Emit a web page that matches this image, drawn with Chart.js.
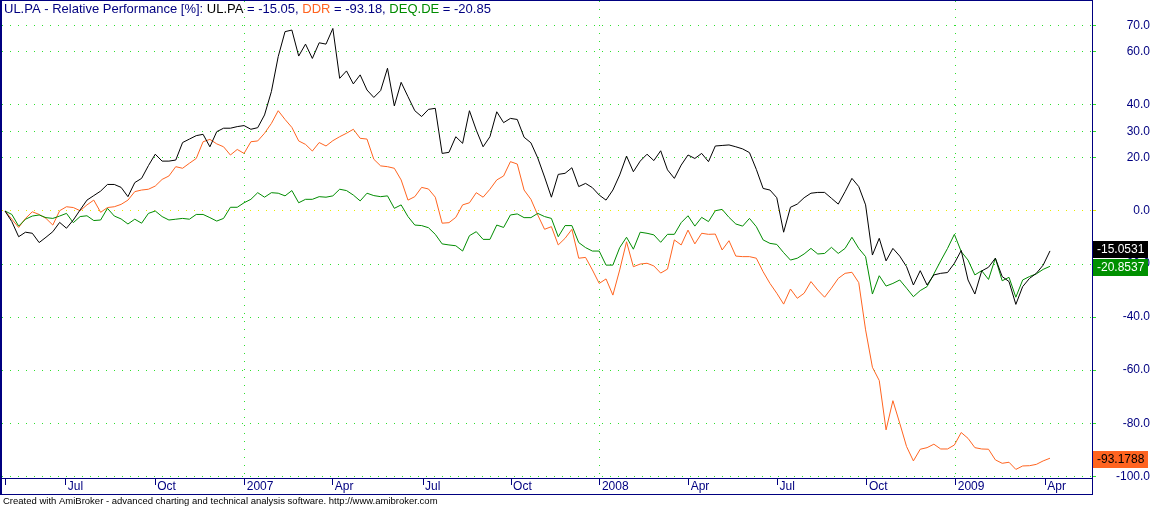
<!DOCTYPE html>
<html>
<head>
<meta charset="utf-8">
<title>UL.PA - Relative Performance</title>
<script src="https://cdn.jsdelivr.net/npm/chart.js"></script>
<style>
    html, body { margin: 0; padding: 0; background: #ffffff; }
</style>
</head>
<body>
<canvas id="perfChart" width="1153" height="507"></canvas>
<script>
// --- weekly relative performance [%] (May 2006 - Apr 2009) ---
const ulpa = [
    0, -4.0, -9.7, -8.0, -8.4, -11.9, -9.9, -7.8, -4.3, -6.5,
    -3.4, 0.4, 4.1, 5.8, 7.5, 10.0, 10.0, 8.9, 5.4, 10.7,
    12.3, 17.1, 21.4, 18.8, 18.8, 19.2, 25.8, 27.1, 28.4, 28.9,
    24.2, 29.9, 31.2, 31.2, 31.8, 32.2, 30.8, 31.4, 36.2, 45.0,
    58.2, 67.6, 68.2, 58.4, 62.9, 57.5, 63.4, 62.9, 68.8, 50.0,
    52.8, 47.9, 51.3, 45.6, 42.8, 45.4, 53.8, 39.6, 48.5, 43.1,
    37.8, 35.6, 38.3, 38.7, 21.7, 22.1, 28.0, 25.5, 37.8, 30.5,
    24.2, 28.0, 37.4, 33.3, 34.9, 34.5, 27.8, 25.7, 20.0, 12.8,
    5.2, 13.8, 14.2, 16.3, 9.2, 10.4, 8.8, 6.0, 4.1, 7.9,
    13.6, 20.7, 14.8, 18.8, 21.4, 19.0, 22.7, 15.5, 12.3, 17.3,
    21.1, 19.8, 21.7, 18.6, 24.5, 24.7, 24.9, 24.2, 23.4, 22.0,
    15.7, 8.5, 7.9, 5.0, -8.0, 1.4, 2.6, 5.0, 6.7, 7.0,
    7.0, 4.8, 2.6, 7.3, 12.3, 9.2, 2.3, -16.6, -10.3, -18.8,
    -14.1, -17.0, -21.0, -27.9, -22.5, -27.9, -24.1, -23.5, -23.2, -19.7,
    -14.9, -26.0, -31.3, -22.6, -21.2, -17.8, -24.7, -26.6, -35.2, -28.5,
    -25.4, -23.5, -20.4, -15.0531
];
const ddr = [
    0, -3.1, -6.2, -2.8, -0.3, -1.3, -2.8, -5.3, 0.1, 1.6,
    1.3, 0.1, 2.3, 4.1, -0.5, 1.3, 1.6, 2.5, 4.1, 7.3,
    7.9, 8.2, 9.4, 11.9, 13.2, 16.7, 16.1, 18.0, 19.8, 26.1,
    27.0, 25.3, 24.2, 21.1, 23.2, 21.7, 26.1, 26.4, 29.3, 33.0,
    37.8, 34.5, 31.5, 26.4, 25.1, 22.6, 25.8, 24.5, 26.5, 28.0,
    29.3, 30.8, 27.4, 27.1, 19.5, 17.0, 16.7, 16.1, 11.7, 4.1,
    5.4, 8.9, 8.3, 5.2, -4.6, -4.4, -2.4, 2.3, 3.1, 6.9,
    5.2, 8.2, 11.7, 13.2, 18.6, 17.7, 7.9, 4.4, -1.5, -6.9,
    -5.9, -12.8, -10.3, -6.9, -17.8, -17.5, -22.2, -27.3, -25.6, -31.7,
    -22.2, -11.6, -21.0, -20.0, -19.7, -20.7, -23.4, -21.9, -10.9, -12.8,
    -7.2, -12.4, -8.4, -8.8, -8.7, -14.7, -11.2, -17.0, -17.2, -17.2,
    -17.8, -22.9, -27.3, -31.0, -35.1, -29.4, -32.9, -31.0, -26.6, -29.8,
    -32.5, -29.1, -25.4, -23.5, -23.1, -27.0, -44.8, -58.9, -63.9, -82.5,
    -71.5, -80.0, -88.8, -94.2, -89.8, -89.2, -87.9, -89.7, -89.7, -88.2,
    -83.5, -85.7, -89.2, -89.7, -89.8, -93.8, -95.1, -94.7, -97.4, -96.1,
    -96.0, -95.5, -94.2, -93.1788
];
const deq = [
    0, -1.3, -5.7, -3.1, -1.9, -1.5, -2.5, -2.8, -1.9, -0.9,
    -4.4, -2.1, -1.8, -3.6, -3.4, 1.0, -1.9, -3.0, -4.9, -3.1,
    -4.6, -0.9, 0, -2.1, -3.4, -3.1, -2.8, -3.1, -1.3, -1.3,
    -2.5, -3.8, -2.8, 1.4, 1.4, 3.1, 4.4, 6.9, 5.2, 6.9,
    6.7, 5.7, 7.7, 3.1, 4.4, 4.4, 5.4, 5.2, 5.7, 8.2,
    7.7, 6.0, 3.8, 6.7, 5.8, 5.4, 5.7, 1.0, 2.3, -2.1,
    -5.3, -5.5, -6.3, -8.8, -12.4, -12.8, -13.1, -15.1, -9.3, -7.8,
    -10.7, -10.7, -5.3, -6.2, -1.5, -1.1, -2.5, -2.5, -0.9, -2.1,
    -2.8, -9.7, -5.5, -5.5, -11.9, -13.8, -15.1, -15.1, -20.4, -20.4,
    -13.8, -9.9, -14.4, -8.0, -8.4, -9.0, -11.8, -8.8, -8.8, -4.4,
    -1.8, -5.7, -2.4, -4.0, 0.1, 0.6, -2.4, -4.9, -5.7, -2.8,
    -5.9, -10.9, -12.2, -12.6, -15.7, -18.5, -17.8, -16.2, -14.1, -16.2,
    -16.0, -13.7, -16.0, -14.1, -9.9, -14.1, -17.2, -31.3, -24.4, -28.3,
    -27.3, -26.0, -29.1, -32.3, -30.0, -28.5, -23.7, -18.8, -14.1, -8.8,
    -15.3, -18.5, -24.1, -22.5, -25.8, -17.8, -26.3, -25.0, -32.5, -26.0,
    -24.7, -23.7, -22.0, -20.8537
];

// x axis: bar number of each quarter mark, and its label
const tickWeeks = [0, 8.9, 22, 35.1, 48, 61.2, 74.1, 87.1, 100.1, 113.1, 126.2, 139.2, 152.3];
const tickLabels = ['', 'Jul', 'Oct', '2007', 'Apr', 'Jul', 'Oct', '2008', 'Apr', 'Jul', 'Oct', '2009', 'Apr'];
// y axis values shown on the right
const yTicks = [70, 60, 40, 30, 20, 0, -20, -40, -60, -80, -100];

const weeks = Array.from({ length: ulpa.length }, (_, i) => i);

const NAVY = '#000080';
const ORANGE = '#ff6420';
const GREEN = '#008c00';
const GRID = '#2ee02e';
const ZERO = '#e8e800';
const FONT = 'Arial, "Liberation Sans", sans-serif';

const last = arr => arr[arr.length - 1];

// frame, title, value boxes and footer in AmiBroker style
const amiDecor = {
    id: 'amiDecor',
    afterDraw(chart) {
        const ctx = chart.ctx;
        const area = chart.chartArea;
        const yScale = chart.scales.y;
        ctx.save();

        // frame
        ctx.fillStyle = NAVY;
        ctx.fillRect(0, 0, 2, 495);
        ctx.fillRect(0, 0, area.right + 1, 1);
        ctx.fillRect(area.right, 0, 1, 495);
        ctx.fillRect(0, area.bottom, area.right + 1, 1);
        ctx.fillRect(0, 494, area.right + 1, 1);

        // title
        const parts = [
            ['UL.PA - Relative Performance [%]: ', NAVY],
            ['UL.PA', '#000000'],
            [' = ' + last(ulpa).toFixed(2) + ', ', NAVY],
            ['DDR', ORANGE],
            [' = ' + last(ddr).toFixed(2) + ', ', NAVY],
            ['DEQ.DE', GREEN],
            [' = ' + last(deq).toFixed(2), NAVY]
        ];
        ctx.font = '13px ' + FONT;
        ctx.textBaseline = 'middle';
        ctx.textAlign = 'left';
        let tx = 4;
        parts.forEach(([text, color]) => {
            ctx.fillStyle = color;
            ctx.fillText(text, tx, 9);
            tx += ctx.measureText(text).width;
        });

        // last-value boxes on the price axis
        ctx.font = '12px ' + FONT;
        const boxes = [
            { v: last(ulpa), bg: '#000000', fg: '#ffffff' },
            { v: last(deq), bg: '#009000', fg: '#ffffff' },
            { v: last(ddr), bg: ORANGE, fg: '#000000' }
        ].map(b => Object.assign(b, { c: yScale.getPixelForValue(b.v) + 1 }));
        boxes.sort((a, b) => a.c - b.c);
        const h = 17;
        for (let i = boxes.length - 2; i >= 0; i--) {
            const below = boxes[i + 1];
            if (boxes[i].c + h / 2 > below.c - h / 2 - 1) boxes[i].c = below.c - h - 1;
        }
        boxes.forEach(b => {
            ctx.fillStyle = b.bg;
            ctx.fillRect(area.right + 1, Math.round(b.c - h / 2), 55, h);
            ctx.fillStyle = b.fg;
            ctx.fillText(b.v.toFixed(4), area.right + 5, Math.round(b.c) + 0.5);
        });

        // footer
        ctx.fillStyle = '#000000';
        ctx.font = '9.5px ' + FONT;
        ctx.fillText('Created with AmiBroker - advanced charting and technical analysis software. http://www.amibroker.com', 3, 501);
        ctx.restore();
    }
};

const line = (label, data, color, order) => ({
    label: label,
    data: data,
    borderColor: color,
    backgroundColor: color,
    borderWidth: 1,
    pointRadius: 0,
    tension: 0,
    fill: false,
    order: order
});

new Chart(document.getElementById('perfChart').getContext('2d'), {
    type: 'line',
    data: {
        labels: weeks,
        datasets: [
            line('UL.PA', ulpa, '#000000', 0),
            line('DEQ.DE', deq, GREEN, 1),
            line('DDR', ddr, ORANGE, 2)
        ]
    },
    options: {
        responsive: false,
        animation: false,
        layout: { padding: { top: 1, left: 2, right: 3, bottom: 13 } },
        plugins: {
            legend: { display: false },
            title: { display: false },
            tooltip: { enabled: false }
        },
        scales: {
            x: {
                type: 'linear',
                position: 'bottom',
                min: -0.44,
                max: 159.15,
                afterBuildTicks: s => { s.ticks = tickWeeks.map(v => ({ value: v })); },
                afterFit: s => {
                    s.height = 16;
                    s.paddingLeft = 0;
                    s.paddingRight = 0;
                },
                grid: {
                    color: ctx => /^\d{4}$/.test(tickLabels[ctx.index] || '') ? GRID : 'rgba(0,0,0,0)',
                    lineWidth: 1,
                    tickLength: 7,
                    tickColor: NAVY,
                    tickBorderDash: []
                },
                border: { display: false, dash: [1, 7] },
                ticks: {
                    autoSkip: false,
                    maxRotation: 0,
                    minRotation: 0,
                    align: 'start',
                    labelOffset: 2,
                    padding: -6,
                    color: NAVY,
                    font: { family: FONT, size: 12 },
                    callback: (v, i) => tickLabels[i]
                }
            },
            y: {
                type: 'linear',
                position: 'right',
                min: -100.64,
                max: 79.15,
                afterBuildTicks: s => { s.ticks = yTicks.map(v => ({ value: v })); },
                afterFit: s => {
                    s.width = 58;
                    s.paddingTop = 0;
                    s.paddingBottom = 0;
                },
                grid: {
                    color: ctx => (ctx.tick && ctx.tick.value === 0) ? ZERO : GRID,
                    lineWidth: 1,
                    tickLength: 4,
                    tickBorderDash: []
                },
                border: { display: false, dash: [1, 7] },
                ticks: {
                    crossAlign: 'far',
                    padding: 4,
                    color: NAVY,
                    font: { family: FONT, size: 12 },
                    callback: v => v.toFixed(1)
                }
            }
        }
    },
    plugins: [amiDecor]
});
</script>
</body>
</html>
